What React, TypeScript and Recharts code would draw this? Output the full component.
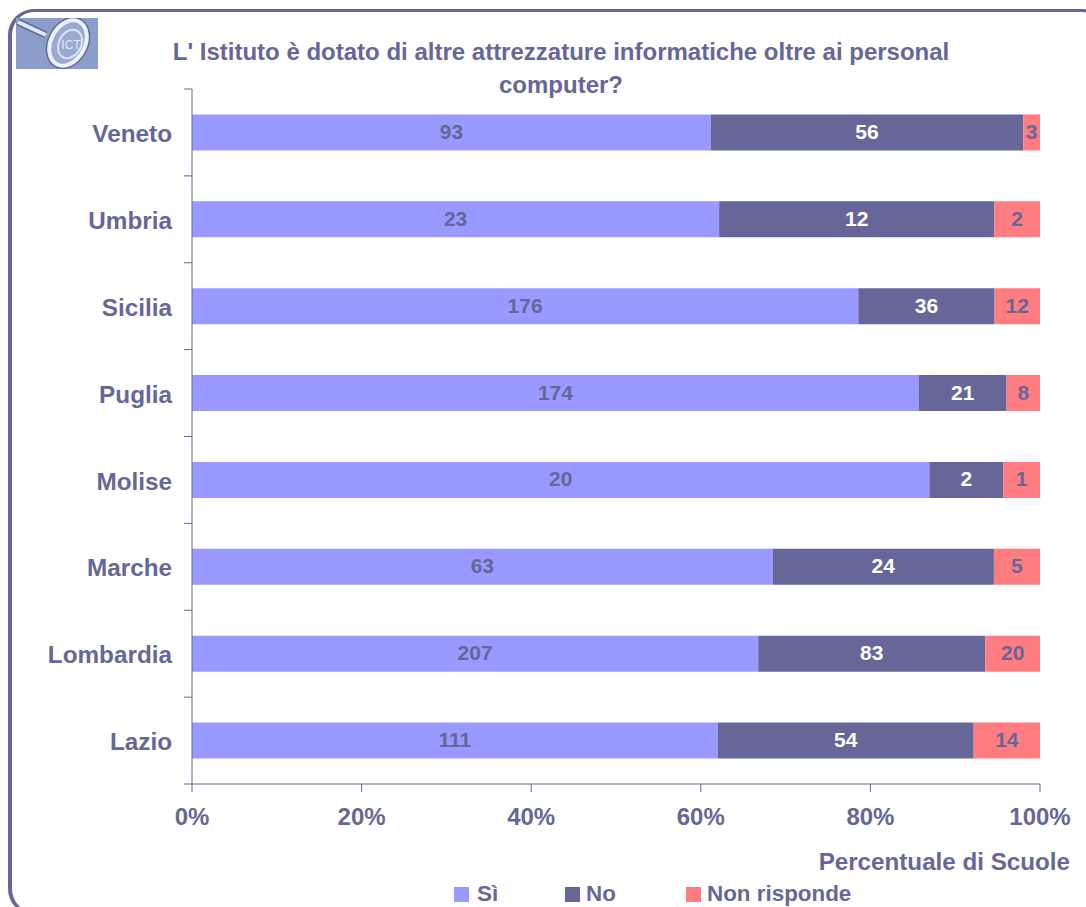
import React from "react";
import { BarChart, Bar, XAxis, YAxis, LabelList, Legend } from "recharts";

const categories = ["Veneto", "Umbria", "Sicilia", "Puglia", "Molise", "Marche", "Lombardia", "Lazio"];
const si = [93, 23, 176, 174, 20, 63, 207, 111];
const no = [56, 12, 36, 21, 2, 24, 83, 54];
const nonRisponde = [3, 2, 12, 8, 1, 5, 20, 14];
const percentTicks = [0, 0.2, 0.4, 0.6, 0.8, 1];
const bandEdges = [0, 0.875, 1.75, 2.625, 3.5, 4.375, 5.25, 6.125, 7];

const data = categories.map((name, i) => ({ name, si: si[i], no: no[i], nr: nonRisponde[i] }));

const INK = "#666699";
const FONT = "'Liberation Sans', Arial, sans-serif";

const legendGaps: Record<string, number> = { "Sì": 454, "No": 565, "Non risponde": 686 };

function LegendContent({ payload }: any) {
  return (
    <div style={{ position: "relative", height: 28, width: 1086 }}>
      {(payload || []).map((p: any) => (
        <div key={p.value} style={{ position: "absolute", left: legendGaps[p.value], top: 0, display: "flex", alignItems: "center", height: 30 }}>
          <span style={{ width: 15, height: 15, background: p.color, display: "inline-block", marginRight: p.value === "Sì" ? 8 : 6 }} />
          <span style={{ font: `bold 22.4px ${FONT}`, color: INK }}>{p.value}</span>
        </div>
      ))}
    </div>
  );
}

function Logo() {
  return (
    <svg width={82} height={51} style={{ position: "absolute", left: 16, top: 18 }}>
      <rect width={82} height={51} fill="#8D9DCB" />
      <line x1={2} y1={4} x2={30} y2={17} stroke="#5F6B99" strokeWidth={7} />
      <line x1={2} y1={4} x2={30} y2={17} stroke="#E4E7F2" strokeWidth={4} />
      <ellipse cx={52} cy={25} rx={17} ry={24} transform="rotate(28 52 25)" fill="#8D9DCB" stroke="#5F6B99" strokeWidth={7} />
      <ellipse cx={52} cy={25} rx={17} ry={24} transform="rotate(28 52 25)" fill="#9AA8D2" stroke="#EEF0F7" strokeWidth={4} />
      <ellipse cx={54} cy={26} rx={11} ry={15} transform="rotate(28 54 26)" fill="none" stroke="#DDE2F0" strokeWidth={2} />
      <text x={55} y={31} textAnchor="middle" fontFamily={FONT} fontSize={12} fill="#E9ECF5">ICT</text>
    </svg>
  );
}

export default function App() {
  return (
    <div style={{ position: "absolute", left: 0, top: 0, width: 1086, height: 907, overflow: "hidden", background: "#fff", fontFamily: FONT }}>
      <div style={{ position: "absolute", left: 8, top: 9, width: 1100, height: 906, boxSizing: "border-box", borderStyle: "solid", borderColor: INK, borderWidth: "3px 4px", borderRadius: 26 }} />
      <Logo />
      <div style={{ position: "absolute", left: 161, width: 800, top: 35, textAlign: "center", font: `bold 24px/33px ${FONT}`, color: INK }}>
        L' Istituto è dotato di altre attrezzature informatiche oltre ai personal<br />computer?
      </div>
      <div style={{ position: "absolute", left: 0, top: 0 }}>
        <BarChart
          width={1086}
          height={907}
          data={data}
          layout="vertical"
          stackOffset="expand"
          barCategoryGap="29.3%"
          margin={{ top: 89, right: 46, bottom: 0, left: 0 }}
        >
          <XAxis
            type="number"
            domain={[0, 1]}
            ticks={percentTicks}
            tickFormatter={(v: number) => `${Math.round(v * 100)}%`}
            height={95}
            stroke={INK}
            tickSize={8}
            tickMargin={16}
            interval={0}
            tick={{ fill: INK, fontSize: 24, fontWeight: "bold", fontFamily: FONT }}
            label={{ value: "Percentuale di Scuole", position: "insideTopRight", dx: 35, dy: 64, fill: INK, fontSize: 24.2, fontWeight: "bold", fontFamily: FONT }}
          />
          <YAxis yAxisId={0} type="number" domain={[0, 7]} ticks={bandEdges} width={1} tick={() => <g />} tickSize={8} stroke={INK} />
          <YAxis
            yAxisId="names"
            type="category"
            dataKey="name"
            width={191}
            axisLine={false}
            tickLine={false}
            tickMargin={13}
            interval={0}
            tick={{ fill: INK, fontSize: 24.3, fontWeight: "bold", fontFamily: FONT, dy: 1 }}
          />
          <Legend verticalAlign="bottom" content={<LegendContent />} />
          <Bar yAxisId="names" dataKey="si" name="Sì" stackId="a" fill="#9999FF" isAnimationActive={false}>
            <LabelList dataKey="si" position="center" fill={INK} fontSize={21} fontWeight="bold" fontFamily={FONT} dy={-1} />
          </Bar>
          <Bar yAxisId="names" dataKey="no" name="No" stackId="a" fill={INK} isAnimationActive={false}>
            <LabelList dataKey="no" position="center" fill="#FFFFFF" fontSize={21} fontWeight="bold" fontFamily={FONT} dy={-1} />
          </Bar>
          <Bar yAxisId="names" dataKey="nr" name="Non risponde" stackId="a" fill="#FF7C80" isAnimationActive={false}>
            <LabelList dataKey="nr" position="center" fill={INK} fontSize={21} fontWeight="bold" fontFamily={FONT} dy={-1} />
          </Bar>
        </BarChart>
      </div>
    </div>
  );
}
